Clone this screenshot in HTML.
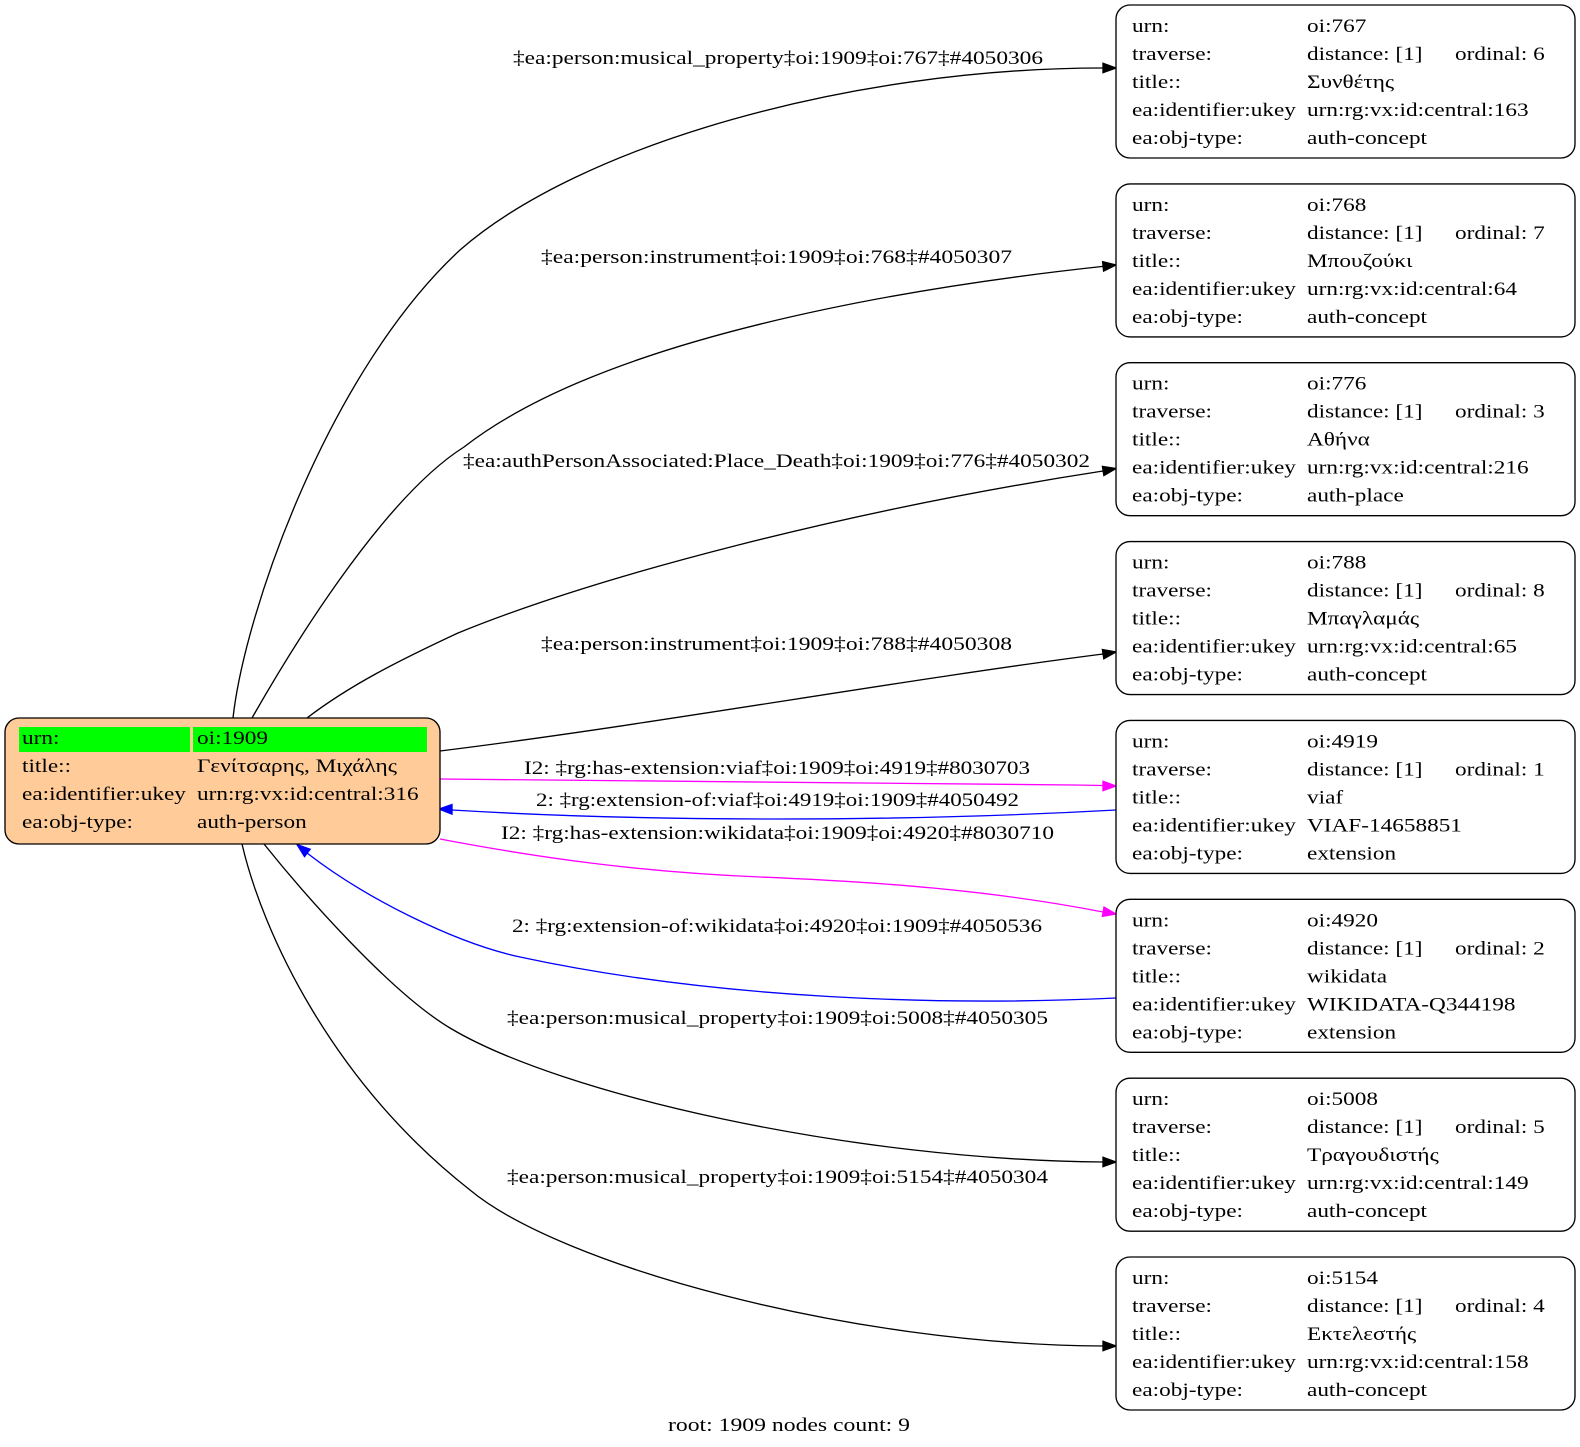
<!DOCTYPE html>
<html>
<head>
<meta charset="utf-8">
<style>
html,body{margin:0;padding:0;background:#fff;}
svg{display:block;}
text{font-family:"Liberation Serif","DejaVu Serif",serif;font-size:18.67px;fill:#000;}
</style>
</head>
<body>
<svg width="1580" height="1447" viewBox="0 0 1580 1447" xmlns="http://www.w3.org/2000/svg">
<rect x="0" y="0" width="1580" height="1447" fill="#fff"/>

<!-- Edges -->
<g fill="none" stroke-width="1.33">
  <path stroke="#000" d="M233,718 C245,610 330,370 460,250 C580,145 850,68 1103,68"/>
  <path stroke="#000" d="M252,718 C285,660 380,500 464,447 C604,338 903,288 1103,266.4"/>
  <path stroke="#000" d="M307,718 C350,685 400,660 458,633 C600,575 850,510 1103,471"/>
  <path stroke="#000" d="M440,751 C650,725 900,680 1103,654"/>
  <path stroke="#ff00ff" d="M440,779 C700,780 900,782 1103,785.5"/>
  <path stroke="#0000ff" d="M1116,810 C900,822 650,822 452,810"/>
  <path stroke="#ff00ff" d="M440,839 C540,858 640,872 760,877 C880,882 990,890 1103,912"/>
  <path stroke="#0000ff" d="M1116,998 C950,1006 720,1000 520,957 C455,943 365,898 307,853"/>
  <path stroke="#000" d="M264,844 C304,894 390,992 450,1028 C560,1094 850,1160 1103,1162"/>
  <path stroke="#000" d="M242,844 C262,930 330,1080 470,1190 C560,1265 850,1345 1103,1346"/>
</g>

<!-- Arrowheads -->
<g stroke-width="1.33" stroke-linejoin="miter">
  <polygon fill="#000" stroke="#000" points="1103,63.3 1116,68 1103,72.7"/>
  <polygon fill="#000" stroke="#000" points="1102.6,261.7 1116,265 1103.6,271.1"/>
  <polygon fill="#000" stroke="#000" points="1102.4,466.4 1116,468.5 1103.9,475.6"/>
  <polygon fill="#000" stroke="#000" points="1102.4,649.5 1116,652 1103.8,658.8"/>
  <polygon fill="#ff00ff" stroke="#ff00ff" points="1103,781.3 1116,786 1103,790.7"/>
  <polygon fill="#0000ff" stroke="#0000ff" points="452,804.5 439,809 452,814.2"/>
  <polygon fill="#ff00ff" stroke="#ff00ff" points="1104,907.1 1116,914 1102.4,916.3"/>
  <polygon fill="#0000ff" stroke="#0000ff" points="310.2,849.2 297,844.5 304.5,856.6"/>
  <polygon fill="#000" stroke="#000" points="1103,1157.3 1116,1162 1103,1166.7"/>
  <polygon fill="#000" stroke="#000" points="1103,1341.3 1116,1346 1103,1350.7"/>
</g>

<!-- Edge labels -->
<g>
  <text x="513" y="64" textLength="530" lengthAdjust="spacingAndGlyphs">‡ea:person:musical_property‡oi:1909‡oi:767‡#4050306</text>
  <text x="541" y="263" textLength="471" lengthAdjust="spacingAndGlyphs">‡ea:person:instrument‡oi:1909‡oi:768‡#4050307</text>
  <text x="463" y="467" textLength="627" lengthAdjust="spacingAndGlyphs">‡ea:authPersonAssociated:Place_Death‡oi:1909‡oi:776‡#4050302</text>
  <text x="541" y="650" textLength="471" lengthAdjust="spacingAndGlyphs">‡ea:person:instrument‡oi:1909‡oi:788‡#4050308</text>
  <text x="524" y="774" textLength="506" lengthAdjust="spacingAndGlyphs">I2: ‡rg:has-extension:viaf‡oi:1909‡oi:4919‡#8030703</text>
  <text x="536" y="806" textLength="483" lengthAdjust="spacingAndGlyphs">2: ‡rg:extension-of:viaf‡oi:4919‡oi:1909‡#4050492</text>
  <text x="501" y="839" textLength="553" lengthAdjust="spacingAndGlyphs">I2: ‡rg:has-extension:wikidata‡oi:1909‡oi:4920‡#8030710</text>
  <text x="512" y="932" textLength="530" lengthAdjust="spacingAndGlyphs">2: ‡rg:extension-of:wikidata‡oi:4920‡oi:1909‡#4050536</text>
  <text x="507" y="1024" textLength="541" lengthAdjust="spacingAndGlyphs">‡ea:person:musical_property‡oi:1909‡oi:5008‡#4050305</text>
  <text x="507" y="1183" textLength="541" lengthAdjust="spacingAndGlyphs">‡ea:person:musical_property‡oi:1909‡oi:5154‡#4050304</text>
  <text x="668" y="1431" textLength="242" lengthAdjust="spacingAndGlyphs">root: 1909 nodes count: 9</text>
</g>

<!-- Root node -->
<rect x="5" y="718" width="435" height="126" rx="14" ry="14" fill="#ffcc99" stroke="#000" stroke-width="1.33"/>
<rect x="19" y="727" width="171" height="25" fill="#00ff00"/>
<rect x="193" y="727" width="234" height="25" fill="#00ff00"/>
<text transform="matrix(1.245 0 0 1 22 744)">urn:</text>
<text transform="matrix(1.245 0 0 1 197 744)">oi:1909</text>
<text transform="matrix(1.245 0 0 1 22 772)">title::</text>
<text transform="matrix(1.245 0 0 1 197 772)">Γενίτσαρης, Μιχάλης</text>
<text transform="matrix(1.245 0 0 1 22 800)">ea:identifier:ukey</text>
<text transform="matrix(1.245 0 0 1 197 800)">urn:rg:vx:id:central:316</text>
<text transform="matrix(1.245 0 0 1 22 828)">ea:obj-type:</text>
<text transform="matrix(1.245 0 0 1 197 828)">auth-person</text>

<!-- Right nodes -->
<g fill="#fff" stroke="#000" stroke-width="1.33">
  <rect x="1116" y="5" width="459" height="153" rx="14" ry="14"/>
  <rect x="1116" y="183.9" width="459" height="153" rx="14" ry="14"/>
  <rect x="1116" y="362.7" width="459" height="153" rx="14" ry="14"/>
  <rect x="1116" y="541.6" width="459" height="153" rx="14" ry="14"/>
  <rect x="1116" y="720.4" width="459" height="153" rx="14" ry="14"/>
  <rect x="1116" y="899.3" width="459" height="153" rx="14" ry="14"/>
  <rect x="1116" y="1078.2" width="459" height="153" rx="14" ry="14"/>
  <rect x="1116" y="1257" width="459" height="153" rx="14" ry="14"/>
</g>

<!-- Node 1: oi:767 -->
<text transform="matrix(1.245 0 0 1 1132 32)">urn:</text>
<text transform="matrix(1.245 0 0 1 1307 32)">oi:767</text>
<text transform="matrix(1.245 0 0 1 1132 60)">traverse:</text>
<text transform="matrix(1.245 0 0 1 1307 60)">distance: [1]</text>
<text transform="matrix(1.245 0 0 1 1455 60)">ordinal: 6</text>
<text transform="matrix(1.245 0 0 1 1132 88)">title::</text>
<text transform="matrix(1.245 0 0 1 1307 88)">Συνθέτης</text>
<text transform="matrix(1.245 0 0 1 1132 116)">ea:identifier:ukey</text>
<text transform="matrix(1.245 0 0 1 1307 116)">urn:rg:vx:id:central:163</text>
<text transform="matrix(1.245 0 0 1 1132 144)">ea:obj-type:</text>
<text transform="matrix(1.245 0 0 1 1307 144)">auth-concept</text>

<!-- Node 2: oi:768 -->
<text transform="matrix(1.245 0 0 1 1132 210.9)">urn:</text>
<text transform="matrix(1.245 0 0 1 1307 210.9)">oi:768</text>
<text transform="matrix(1.245 0 0 1 1132 238.9)">traverse:</text>
<text transform="matrix(1.245 0 0 1 1307 238.9)">distance: [1]</text>
<text transform="matrix(1.245 0 0 1 1455 238.9)">ordinal: 7</text>
<text transform="matrix(1.245 0 0 1 1132 266.9)">title::</text>
<text transform="matrix(1.245 0 0 1 1307 266.9)">Μπουζούκι</text>
<text transform="matrix(1.245 0 0 1 1132 294.9)">ea:identifier:ukey</text>
<text transform="matrix(1.245 0 0 1 1307 294.9)">urn:rg:vx:id:central:64</text>
<text transform="matrix(1.245 0 0 1 1132 322.9)">ea:obj-type:</text>
<text transform="matrix(1.245 0 0 1 1307 322.9)">auth-concept</text>

<!-- Node 3: oi:776 -->
<text transform="matrix(1.245 0 0 1 1132 389.7)">urn:</text>
<text transform="matrix(1.245 0 0 1 1307 389.7)">oi:776</text>
<text transform="matrix(1.245 0 0 1 1132 417.7)">traverse:</text>
<text transform="matrix(1.245 0 0 1 1307 417.7)">distance: [1]</text>
<text transform="matrix(1.245 0 0 1 1455 417.7)">ordinal: 3</text>
<text transform="matrix(1.245 0 0 1 1132 445.7)">title::</text>
<text transform="matrix(1.245 0 0 1 1307 445.7)">Αθήνα</text>
<text transform="matrix(1.245 0 0 1 1132 473.7)">ea:identifier:ukey</text>
<text transform="matrix(1.245 0 0 1 1307 473.7)">urn:rg:vx:id:central:216</text>
<text transform="matrix(1.245 0 0 1 1132 501.7)">ea:obj-type:</text>
<text transform="matrix(1.245 0 0 1 1307 501.7)">auth-place</text>

<!-- Node 4: oi:788 -->
<text transform="matrix(1.245 0 0 1 1132 568.6)">urn:</text>
<text transform="matrix(1.245 0 0 1 1307 568.6)">oi:788</text>
<text transform="matrix(1.245 0 0 1 1132 596.6)">traverse:</text>
<text transform="matrix(1.245 0 0 1 1307 596.6)">distance: [1]</text>
<text transform="matrix(1.245 0 0 1 1455 596.6)">ordinal: 8</text>
<text transform="matrix(1.245 0 0 1 1132 624.6)">title::</text>
<text transform="matrix(1.245 0 0 1 1307 624.6)">Μπαγλαμάς</text>
<text transform="matrix(1.245 0 0 1 1132 652.6)">ea:identifier:ukey</text>
<text transform="matrix(1.245 0 0 1 1307 652.6)">urn:rg:vx:id:central:65</text>
<text transform="matrix(1.245 0 0 1 1132 680.6)">ea:obj-type:</text>
<text transform="matrix(1.245 0 0 1 1307 680.6)">auth-concept</text>

<!-- Node 5: oi:4919 -->
<text transform="matrix(1.245 0 0 1 1132 747.4)">urn:</text>
<text transform="matrix(1.245 0 0 1 1307 747.4)">oi:4919</text>
<text transform="matrix(1.245 0 0 1 1132 775.4)">traverse:</text>
<text transform="matrix(1.245 0 0 1 1307 775.4)">distance: [1]</text>
<text transform="matrix(1.245 0 0 1 1455 775.4)">ordinal: 1</text>
<text transform="matrix(1.245 0 0 1 1132 803.4)">title::</text>
<text transform="matrix(1.245 0 0 1 1307 803.4)">viaf</text>
<text transform="matrix(1.245 0 0 1 1132 831.4)">ea:identifier:ukey</text>
<text transform="matrix(1.245 0 0 1 1307 831.4)">VIAF-14658851</text>
<text transform="matrix(1.245 0 0 1 1132 859.4)">ea:obj-type:</text>
<text transform="matrix(1.245 0 0 1 1307 859.4)">extension</text>

<!-- Node 6: oi:4920 -->
<text transform="matrix(1.245 0 0 1 1132 926.3)">urn:</text>
<text transform="matrix(1.245 0 0 1 1307 926.3)">oi:4920</text>
<text transform="matrix(1.245 0 0 1 1132 954.3)">traverse:</text>
<text transform="matrix(1.245 0 0 1 1307 954.3)">distance: [1]</text>
<text transform="matrix(1.245 0 0 1 1455 954.3)">ordinal: 2</text>
<text transform="matrix(1.245 0 0 1 1132 982.3)">title::</text>
<text transform="matrix(1.245 0 0 1 1307 982.3)">wikidata</text>
<text transform="matrix(1.245 0 0 1 1132 1010.3)">ea:identifier:ukey</text>
<text transform="matrix(1.245 0 0 1 1307 1010.3)">WIKIDATA-Q344198</text>
<text transform="matrix(1.245 0 0 1 1132 1038.3)">ea:obj-type:</text>
<text transform="matrix(1.245 0 0 1 1307 1038.3)">extension</text>

<!-- Node 7: oi:5008 -->
<text transform="matrix(1.245 0 0 1 1132 1105.2)">urn:</text>
<text transform="matrix(1.245 0 0 1 1307 1105.2)">oi:5008</text>
<text transform="matrix(1.245 0 0 1 1132 1133.2)">traverse:</text>
<text transform="matrix(1.245 0 0 1 1307 1133.2)">distance: [1]</text>
<text transform="matrix(1.245 0 0 1 1455 1133.2)">ordinal: 5</text>
<text transform="matrix(1.245 0 0 1 1132 1161.2)">title::</text>
<text transform="matrix(1.245 0 0 1 1307 1161.2)">Τραγουδιστής</text>
<text transform="matrix(1.245 0 0 1 1132 1189.2)">ea:identifier:ukey</text>
<text transform="matrix(1.245 0 0 1 1307 1189.2)">urn:rg:vx:id:central:149</text>
<text transform="matrix(1.245 0 0 1 1132 1217.2)">ea:obj-type:</text>
<text transform="matrix(1.245 0 0 1 1307 1217.2)">auth-concept</text>

<!-- Node 8: oi:5154 -->
<text transform="matrix(1.245 0 0 1 1132 1284)">urn:</text>
<text transform="matrix(1.245 0 0 1 1307 1284)">oi:5154</text>
<text transform="matrix(1.245 0 0 1 1132 1312)">traverse:</text>
<text transform="matrix(1.245 0 0 1 1307 1312)">distance: [1]</text>
<text transform="matrix(1.245 0 0 1 1455 1312)">ordinal: 4</text>
<text transform="matrix(1.245 0 0 1 1132 1340)">title::</text>
<text transform="matrix(1.245 0 0 1 1307 1340)">Εκτελεστής</text>
<text transform="matrix(1.245 0 0 1 1132 1368)">ea:identifier:ukey</text>
<text transform="matrix(1.245 0 0 1 1307 1368)">urn:rg:vx:id:central:158</text>
<text transform="matrix(1.245 0 0 1 1132 1396)">ea:obj-type:</text>
<text transform="matrix(1.245 0 0 1 1307 1396)">auth-concept</text>

</svg>
</body>
</html>
